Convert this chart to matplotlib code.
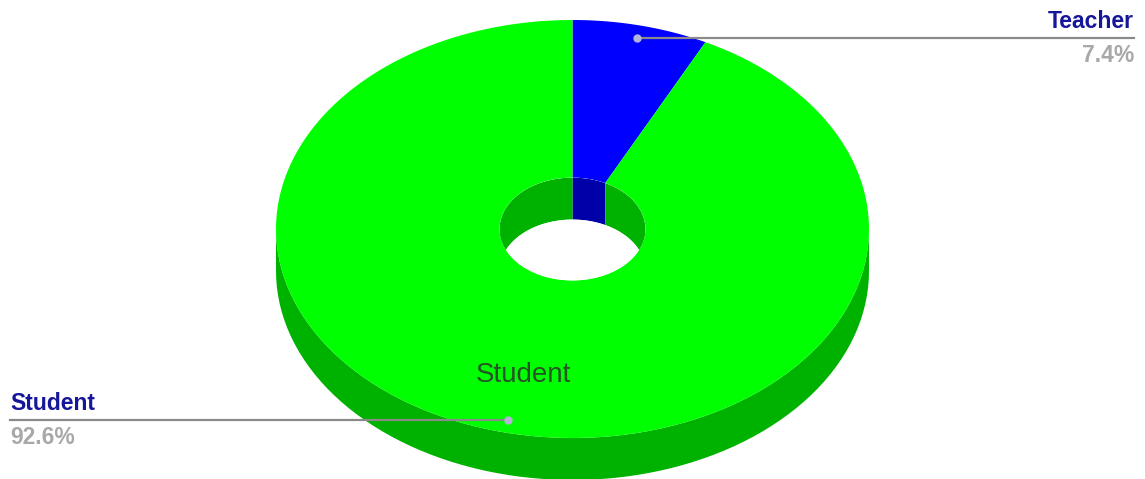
import numpy as np
import matplotlib
matplotlib.use('Agg')
import matplotlib.pyplot as plt
from matplotlib.patches import Polygon

# slice data
labels = ['Teacher', 'Student']
values = [7.4, 92.6]
top_colors = ['#0000ff', '#00ff00']
side_colors = ['#0000a8', '#00b200']

plt.rcParams['font.family'] = ['Liberation Sans', 'DejaVu Sans']

W, H = 1145, 479
fig = plt.figure(figsize=(W / 100, H / 100), dpi=100)
ax = fig.add_axes([0, 0, 1, 1])
ax.set_xlim(0, W)
ax.set_ylim(H, 0)
ax.axis('off')

# pie geometry in pixels
cx, cy = 572.5, 229
RX, RY = 296.5, 209
depth = 42
hole = 0.246


def pt(theta, r=1.0, dy=0.0):
    """point on the tilted ellipse, theta in degrees clockwise from 12 o'clock"""
    t = np.radians(theta)
    return np.column_stack([cx + r * RX * np.sin(t), cy - r * RY * np.cos(t) + dy])


def wall(lo, hi, r):
    th = np.linspace(lo, hi, 80)
    return np.vstack([pt(th, r), pt(th[::-1], r, depth)])


total = sum(values)
bounds = np.concatenate([[0], np.cumsum(values) / total * 360])

# outer side wall, only the front half shows
for i in range(len(values)):
    lo, hi = max(bounds[i], 90), min(bounds[i + 1], 270)
    if hi > lo:
        ax.add_patch(Polygon(wall(lo, hi, 1.0), closed=True, fc=side_colors[i], ec='none', zorder=1))

# top face
for i in range(len(values)):
    th = np.linspace(bounds[i], bounds[i + 1], 200)
    verts = np.vstack([pt(th, 1.0), pt(th[::-1], hole)])
    ax.add_patch(Polygon(verts, closed=True, fc=top_colors[i], ec='none', zorder=2))

# inner wall of the hole, back half only
clip = Polygon(pt(np.linspace(0, 360, 200), hole), closed=True, transform=ax.transData)
for i in range(len(values)):
    for seg_lo, seg_hi in [(0, 90), (270, 360)]:
        lo, hi = max(bounds[i], seg_lo), min(bounds[i + 1], seg_hi)
        if hi > lo:
            p = Polygon(wall(lo, hi, hole), closed=True, fc=side_colors[i], ec='none', zorder=3)
            ax.add_patch(p)
            p.set_clip_path(clip)
see_through = Polygon(pt(np.linspace(0, 360, 200), hole, depth), closed=True, fc='white', ec='none', zorder=4)
ax.add_patch(see_through)
see_through.set_clip_path(clip)

# labels with leader lines
for i, name in enumerate(labels):
    mid = (bounds[i] + bounds[i + 1]) / 2
    ax_, ay_ = pt(mid, 0.94)[0]
    pct = '%.1f%%' % (values[i] / total * 100)
    if ax_ > cx:
        x_end, ha = 1134, 'right'
    else:
        x_end, ha = 10, 'left'
    ax.plot([ax_, x_end], [ay_, ay_], color='#8a8a8a', lw=1.6, zorder=5)
    ax.plot([ax_], [ay_], 'o', ms=5, color='#b4b4d8', zorder=6)
    ax.text(x_end, ay_ - 10, name, ha=ha, va='baseline', fontsize=16.5,
            fontweight='bold', color='#16169a', zorder=6)
    ax.text(x_end, ay_ + 24, pct, ha=ha, va='baseline', fontsize=16.5,
            fontweight='bold', color='#a8a8a8', zorder=6)

# name printed on the large slice
big = int(np.argmax(values))
mid = (bounds[big] + bounds[big + 1]) / 2
lx, ly = pt(mid, 0.72)[0]
ax.text(lx, ly, labels[big], ha='center', va='center', fontsize=20, color='#265426', zorder=6)

fig.savefig('out.png', dpi=100)
